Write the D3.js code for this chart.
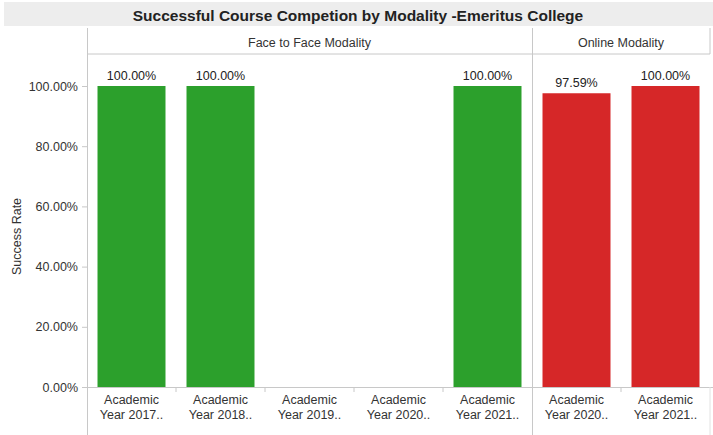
<!DOCTYPE html>
<html>
<head>
<meta charset="utf-8">
<script src="https://cdn.jsdelivr.net/npm/d3@7/dist/d3.min.js"></script>
<style>
  html, body { margin: 0; padding: 0; background: #fff; }
  svg { display: block; font-family: "Liberation Sans", Arial, sans-serif; }
</style>
</head>
<body>
<svg id="chart" width="713" height="435"></svg>
<script>
const title = "Successful Course Competion by Modality -Emeritus College";
const yAxisTitle = "Success Rate";
const panelNames = ["Face to Face Modality", "Online Modality"];
const faceCategories = ["Academic Year 2017..", "Academic Year 2018..", "Academic Year 2019..", "Academic Year 2020..", "Academic Year 2021.."];
const faceValues = [1.0, 1.0, null, null, 1.0];
const onlineCategories = ["Academic Year 2020..", "Academic Year 2021.."];
const onlineValues = [0.9759, 1.0];
const yTicks = [0, 0.2, 0.4, 0.6, 0.8, 1.0];
const panelColors = ["#2ca02c", "#d62728"];

const svg = d3.select("#chart");
const W = 713, H = 435;
const axisX = 87, step = 89;
const yTop = 86, yBase = 387;
const headerTop = 28, headerBottom = 54;
const lineColor = "#c8c8c8";

// Title band
svg.append("rect").attr("x", 4).attr("y", 2).attr("width", W - 4).attr("height", 24).attr("fill", "#ededed");
svg.append("text").attr("x", 358).attr("y", 20.5).attr("text-anchor", "middle")
  .attr("font-size", 15.5).attr("font-weight", "bold").attr("fill", "#222").text(title);

const y = d3.scaleLinear().domain([0, 1]).range([yBase, yTop]);

const panels = [
  { name: panelNames[0], cats: faceCategories, vals: faceValues, color: panelColors[0] },
  { name: panelNames[1], cats: onlineCategories, vals: onlineValues, color: panelColors[1] }
];

let x0 = axisX;
const panelEdges = [x0];
panels.forEach(p => {
  const x1 = x0 + p.cats.length * step;
  const xs = d3.scaleBand().domain(p.cats.map((c, i) => i)).range([x0, x1])
    .paddingInner(0.236).paddingOuter(0.118);
  const g = svg.append("g");
  g.append("text").attr("x", (x0 + x1) / 2).attr("y", 47).attr("text-anchor", "middle")
    .attr("font-size", 12.5).attr("fill", "#333").text(p.name);
  p.vals.forEach((v, i) => {
    if (v == null) return;
    g.append("rect").attr("x", xs(i)).attr("y", y(v)).attr("width", xs.bandwidth())
      .attr("height", y(0) - y(v)).attr("fill", p.color);
    g.append("text").attr("x", xs(i) + xs.bandwidth() / 2).attr("y", y(v) - 6)
      .attr("text-anchor", "middle").attr("font-size", 12.5).attr("fill", "#222")
      .text(d3.format(".2%")(v));
  });
  p.cats.forEach((c, i) => {
    const cx = xs(i) + xs.bandwidth() / 2;
    const parts = c.split(" ");
    const t = g.append("text").attr("text-anchor", "middle").attr("font-size", 12.5).attr("fill", "#333");
    t.append("tspan").attr("x", cx).attr("y", 404).text(parts[0]);
    t.append("tspan").attr("x", cx).attr("y", 419).text(parts.slice(1).join(" "));
    const bx = x0 + (i + 1) * step;
    if (i < p.cats.length - 1) {
      g.append("line").attr("x1", bx).attr("x2", bx).attr("y1", yBase).attr("y2", yBase + 5)
        .attr("stroke", lineColor);
    }
  });
  x0 = x1;
  panelEdges.push(x0);
});
const xEnd = panelEdges[panelEdges.length - 1];

svg.append("line").attr("x1", axisX).attr("x2", xEnd).attr("y1", headerBottom).attr("y2", headerBottom)
  .attr("stroke", lineColor);
svg.append("line").attr("x1", axisX - 5).attr("x2", W).attr("y1", yBase + 0.5).attr("y2", yBase + 0.5)
  .attr("stroke", lineColor);
panelEdges.forEach((ex, i) => {
  if (i === panelEdges.length - 1) {
    svg.append("line").attr("x1", ex).attr("x2", ex).attr("y1", headerTop).attr("y2", headerBottom).attr("stroke", lineColor);
    svg.append("line").attr("x1", ex).attr("x2", ex).attr("y1", yBase).attr("y2", H).attr("stroke", "#e2e2e2");
  } else {
    svg.append("line").attr("x1", ex + 0.5).attr("x2", ex + 0.5).attr("y1", headerTop).attr("y2", H).attr("stroke", lineColor);
  }
});

const yAxis = d3.axisLeft(y).tickValues(yTicks).tickFormat(d3.format(".2%")).tickSize(5).tickPadding(4);
const ga = svg.append("g").attr("transform", `translate(${axisX},0)`).call(yAxis);
ga.select(".domain").remove();
ga.selectAll(".tick line").attr("stroke", lineColor);
ga.selectAll(".tick text").attr("font-size", 12.5).attr("fill", "#333").attr("font-family", "Liberation Sans, Arial, sans-serif");

svg.append("text").attr("transform", `translate(21,${(yTop + yBase) / 2}) rotate(-90)`)
  .attr("text-anchor", "middle").attr("font-size", 12.5).attr("fill", "#333").text(yAxisTitle);
</script>
</body>
</html>
